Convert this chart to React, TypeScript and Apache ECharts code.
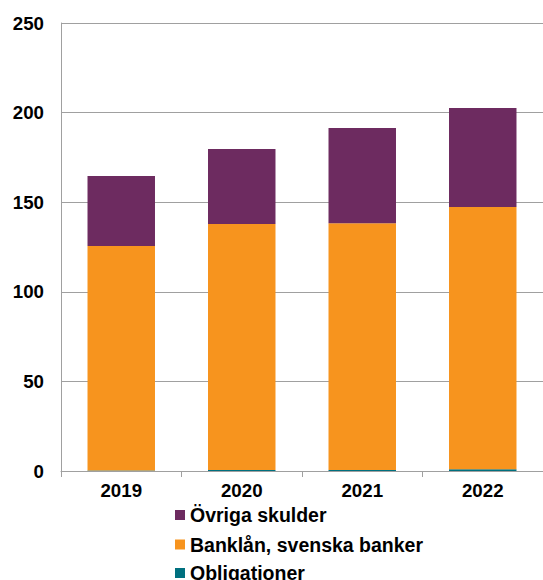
import React, { useEffect, useRef } from "react";
import * as echarts from "echarts";

const years = ["2019", "2020", "2021", "2022"];
const obligationer = [0.3, 0.5, 0.5, 1.0];
const banklan = [125.3, 137.3, 137.7, 146.3];
const ovriga = [39.0, 41.9, 53.2, 55.3];
const legendNames = ["Övriga skulder", "Banklån, svenska banker", "Obligationer"];
const yTicks = { min: 0, max: 250, interval: 50 };

const FONT = "Liberation Sans, Arial, sans-serif";

export default function App() {
  const ref = useRef<HTMLDivElement>(null);
  useEffect(() => {
    if (!ref.current) return;
    const chart = echarts.init(ref.current, null, { renderer: "svg" });
    const grid = "#a0a0a0";
    const legendTops = [505, 534.5, 563];
    chart.setOption({
      animation: false,
      textStyle: { fontFamily: FONT },
      grid: { left: 61, right: 0, top: 23, bottom: 109, containLabel: false },
      legend: legendNames.map((n, i) => ({
        orient: "vertical",
        left: 175,
        top: legendTops[i],
        padding: 0,
        itemWidth: 10,
        itemHeight: 10,
        icon: "rect",
        data: [n],
        textStyle: { fontSize: 19.5, fontWeight: "bold", color: "#000", lineHeight: 20 },
      })),
      xAxis: {
        type: "category",
        data: years,
        boundaryGap: true,
        axisLine: { lineStyle: { color: grid, width: 1 } },
        axisTick: { show: true, length: 6, lineStyle: { color: grid } },
        axisLabel: { fontSize: 18.7, fontWeight: "bold", color: "#000", margin: 10 },
      },
      yAxis: {
        type: "value",
        min: yTicks.min,
        max: yTicks.max,
        interval: yTicks.interval,
        axisLine: { show: true, lineStyle: { color: grid, width: 1 } },
        axisTick: { show: false },
        splitLine: { lineStyle: { color: grid, width: 1 } },
        axisLabel: { fontSize: 18.7, fontWeight: "bold", color: "#000", margin: 17 },
      },
      series: [
        {
          name: "Obligationer",
          type: "bar",
          stack: "s",
          data: obligationer,
          barWidth: "56%",
          itemStyle: { color: "#00707f" },
        },
        {
          name: "Banklån, svenska banker",
          type: "bar",
          stack: "s",
          data: banklan,
          barWidth: "56%",
          itemStyle: { color: "#f7941e" },
        },
        {
          name: "Övriga skulder",
          type: "bar",
          stack: "s",
          data: ovriga,
          barWidth: "56%",
          itemStyle: { color: "#6d2b60" },
        },
      ],
    });
    return () => chart.dispose();
  }, []);
  return (
    <div
      ref={ref}
      style={{ position: "fixed", left: 0, top: 0, width: 543, height: 580, background: "#fff" }}
    />
  );
}
